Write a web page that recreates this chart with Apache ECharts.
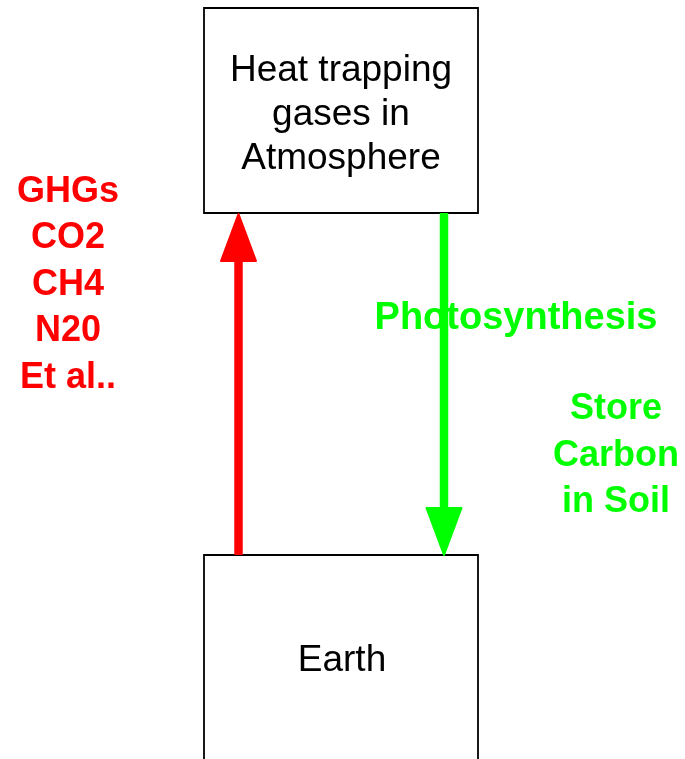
<!DOCTYPE html>
<html>
<head>
<meta charset="utf-8">
<script src="https://cdn.jsdelivr.net/npm/echarts@6/dist/echarts.min.js"></script>
<style>
  html, body { margin: 0; padding: 0; background: #fff; }
  #chart { width: 685px; height: 759px; }
</style>
</head>
<body>
<div id="chart"></div>
<script>
// boxes: [left, top, right, bottom] in page units
var boxes = [
  [204, 8, 478, 213],
  [204, 555, 478, 800]
]
// arrows: [x, from y, to y]
var arrowPaths = [
  [238.5, 555, 214],
  [444, 213, 555]
]
var arrowColors = ['#ff0000', '#00ff00']

// text blocks
var labelTexts = [
  'Heat trapping\ngases in\nAtmosphere',
  'Earth',
  'GHGs\nCO2\nCH4\nN20\nEt al..',
  'Photosynthesis',
  'Store\nCarbon\nin Soil'
]
var labelPos = [
  [341, 115],
  [342, 661],
  [68, 285],
  [516, 319],
  [616, 456]
]
var labelColors = ['#000000', '#000000', '#ff0000', '#00ff00', '#00ff00']
var labelBold = [false, false, true, true, true]
var labelSizes = [37, 37, 36, 38, 36]

var chart = echarts.init(document.getElementById('chart'))

var option = {
  backgroundColor: '#ffffff',
  animation: false,
  grid: { left: 0, right: 0, top: 0, bottom: 0 },
  xAxis: { type: 'value', min: 0, max: 685, show: false },
  yAxis: { type: 'value', min: 0, max: 759, inverse: true, show: false },
  series: [{
    type: 'custom',
    name: 'boxes',
    data: boxes,
    renderItem: function (params, api) {
      var a = api.coord([api.value(0), api.value(1)])
      var b = api.coord([api.value(2), api.value(3)])
      return {
        type: 'rect',
        shape: { x: a[0], y: a[1], width: b[0] - a[0], height: b[1] - a[1] },
        style: { fill: '#ffffff', stroke: '#000000', lineWidth: 1.8 }
      }
    }
  }, {
    type: 'custom',
    name: 'arrows',
    data: arrowPaths,
    renderItem: function (params, api) {
      var x = api.value(0)
      var y0 = api.value(1)
      var y1 = api.value(2)
      var dir = y1 > y0 ? 1 : -1
      var headLen = 47
      var half = 17.5
      var start = api.coord([x, y0])
      var base = api.coord([x, y1 - dir * headLen])
      var tip = api.coord([x, y1])
      var color = arrowColors[params.dataIndex]
      return {
        type: 'group',
        children: [{
          type: 'line',
          shape: { x1: start[0], y1: start[1], x2: base[0], y2: base[1] + dir * 4 },
          style: { stroke: color, lineWidth: 8.5 }
        }, {
          type: 'polygon',
          shape: { points: [[base[0] - half, base[1]], [base[0] + half, base[1]], [tip[0], tip[1]]] },
          style: { fill: color, stroke: color, lineWidth: 2, lineJoin: 'round' }
        }]
      }
    }
  }, {
    type: 'custom',
    name: 'labels',
    data: labelPos,
    renderItem: function (params, api) {
      var i = params.dataIndex
      var p = api.coord([api.value(0), api.value(1)])
      var bold = labelBold[i]
      return {
        type: 'text',
        style: {
          text: labelTexts[i],
          x: p[0],
          y: p[1],
          fill: labelColors[i],
          font: (bold ? 'bold ' : '') + labelSizes[i] + 'px "Liberation Sans", Arial, sans-serif',
          lineHeight: bold ? 46.5 : 44,
          align: 'center',
          verticalAlign: 'middle'
        }
      }
    }
  }]
}

chart.setOption(option)
</script>
</body>
</html>
